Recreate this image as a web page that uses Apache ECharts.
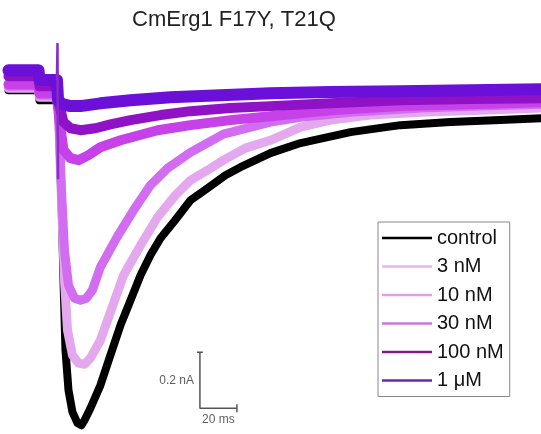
<!DOCTYPE html>
<html>
<head>
<meta charset="utf-8">
<script src="https://cdn.jsdelivr.net/npm/echarts@6/dist/echarts.min.js"></script>
<style>
html,body{margin:0;padding:0;background:#fff;}
#chart{width:541px;height:434px;}
</style>
</head>
<body>
<div id="chart"></div>
<script>
// ---- data (time in ms, current in nA) ----
const seriesNames = ['control', '3 nM', '10 nM', '30 nM', '100 nM', '1 μM'];

const controlT = [-26.5, -10.27, -9.73, -0.54, 0, 0.54, 2.16, 3.24, 4.32, 5.95, 8.11, 10.8, 12.97, 14.6, 17.8, 23.2, 28.6, 34.1, 39.5, 44.9, 50.3, 55.7, 62.7, 71.9, 81.1, 90.8, 98.9, 115.1, 131.4, 158.4, 185.4, 212.4, 239.5, 261.6];
const controlI = [0.018, 0.018, -0.018, -0.018, -0.018, -0.054, -0.375, -0.661, -0.911, -1.054, -1.132, -1.171, -1.179, -1.161, -1.118, -1.036, -0.929, -0.821, -0.732, -0.643, -0.571, -0.511, -0.454, -0.375, -0.332, -0.286, -0.257, -0.207, -0.171, -0.132, -0.107, -0.096, -0.089, -0.082];

const nM3T = [-26.5, -10.27, -9.73, -0.54, 0, 0.54, 2.16, 3.78, 5.41, 8.11, 11.35, 14.6, 17.8, 23.2, 28.6, 35.7, 44.9, 54.1, 63.8, 71.9, 81.1, 89.7, 101.6, 115.1, 131.4, 147.6, 169.2, 196.2, 228.6, 261.6];
const nM3I = [0.025, 0.025, -0.007, -0.007, -0.007, -0.054, -0.375, -0.661, -0.839, -0.929, -0.957, -0.961, -0.939, -0.875, -0.775, -0.643, -0.536, -0.436, -0.357, -0.304, -0.268, -0.232, -0.189, -0.161, -0.114, -0.089, -0.071, -0.061, -0.054, -0.046];

const nM10T = [-26.5, -10.27, -9.73, -0.54, 0, 0.54, 2.16, 3.78, 5.95, 9.19, 12.43, 15.68, 18.9, 23.2, 32.4, 41.1, 50.3, 59.5, 71.9, 89.7, 115.1, 131.4, 158.4, 196.2, 228.6, 261.6];
const nM10I = [0.032, 0.032, 0, 0, 0, -0.054, -0.339, -0.554, -0.679, -0.725, -0.732, -0.725, -0.696, -0.614, -0.504, -0.411, -0.321, -0.261, -0.204, -0.139, -0.096, -0.079, -0.061, -0.046, -0.039, -0.032];

const nM30T = [-26.5, -10.27, -9.73, -0.54, 0, 1.08, 3.24, 7.03, 11.35, 16.76, 23.2, 34.1, 54.1, 71.9, 93.5, 115.1, 147.6, 185.4, 223.2, 261.6];
const nM30I = [0.039, 0.039, 0.007, 0.007, 0.007, -0.089, -0.196, -0.225, -0.232, -0.214, -0.186, -0.161, -0.125, -0.107, -0.089, -0.075, -0.054, -0.039, -0.032, -0.025];

const nM100T = [-26.5, -10.27, -9.73, -0.54, 0, 1.08, 3.24, 7.03, 12.43, 20.5, 28.6, 39.5, 55.7, 71.9, 93.5, 115.1, 147.6, 185.4, 223.2, 261.6];
const nM100I = [0.068, 0.068, 0.032, 0.032, 0.032, -0.036, -0.096, -0.118, -0.125, -0.118, -0.104, -0.089, -0.071, -0.057, -0.046, -0.039, -0.029, -0.018, -0.014, -0.011];

const uM1T = [-26.5, -10.27, -9.73, -0.27, 0.32, 2.7, 7.03, 12.43, 23.2, 39.5, 61.1, 88.1, 115.1, 147.6, 185.4, 223.2, 261.6];
const uM1I = [0.089, 0.089, 0.054, 0.054, -0.018, -0.032, -0.039, -0.039, -0.029, -0.018, -0.007, 0, 0.007, 0.011, 0.014, 0.018, 0.021];

// capacitive transient at the step onset
const spikeT = [-0.3, 0, 0.3];
const spikeI = [0.054, 0.186, -0.3];

// scale bar: origin and lengths
const scaleOriginT = 77;      // ms
const scaleOriginI = -1.118;  // nA
const scaleLenT = 20;         // ms
const scaleLenI = 0.2;        // nA
const scaleLabels = ['0.2 nA', '20 ms'];

const titleText = 'CmErg1 F17Y, T21Q';

// ---- styles ----
const traceColors = ['#000000', '#e4a8ee', '#d26cf0', '#c642e8', '#9012c6', '#6a10d8'];
const legendColors = ['#000000', '#e8b4f0', '#dca0ec', '#c878dc', '#7c1c8c', '#6a2c9c'];
const traceWidths = [8, 9, 9, 10, 10, 12];

const traces = [[controlT, controlI], [nM3T, nM3I], [nM10T, nM10I], [nM30T, nM30I], [nM100T, nM100I], [uM1T, uM1I]];

const series = traces.map((tr, k) => ({
  name: seriesNames[k],
  type: 'line',
  data: tr[0].map((t, i) => [t, tr[1][i]]),
  symbol: 'none',
  smooth: false,
  lineStyle: { color: traceColors[k], width: traceWidths[k], cap: 'round', join: 'round' },
  itemStyle: { color: traceColors[k] },
  z: 2 + k
}));

series.push({
  name: 'spike', type: 'line', symbol: 'none', z: 9,
  lineStyle: { color: '#8a2cc8', width: 2.5 },
  data: spikeT.map((t, i) => [t, spikeI[i]])
});

const sbT0 = scaleOriginT, sbI0 = scaleOriginI;
series.push({
  name: 'scalebar', type: 'line', symbol: 'none', z: 20,
  lineStyle: { color: '#555', width: 1.5 },
  data: [[sbT0, sbI0 + scaleLenI], [sbT0, sbI0], [sbT0 + scaleLenT, sbI0]]
});
series.push({
  name: 'scalecap1', type: 'line', symbol: 'none', z: 20,
  lineStyle: { color: '#555', width: 1.5 },
  data: [[sbT0 - 1.6, sbI0 + scaleLenI], [sbT0 + 1.6, sbI0 + scaleLenI]]
});
series.push({
  name: 'scalecap2', type: 'line', symbol: 'none', z: 20,
  lineStyle: { color: '#555', width: 1.5 },
  data: [[sbT0 + scaleLenT, sbI0 + 0.014], [sbT0 + scaleLenT, sbI0 - 0.014]]
});
series.push({
  name: 'scalelabels', type: 'scatter', symbolSize: 0, z: 21,
  data: [
    { value: [sbT0, sbI0 + scaleLenI / 2], label: { show: true, position: 'left', distance: 6, formatter: scaleLabels[0] } },
    { value: [sbT0 + scaleLenT / 2, sbI0], label: { show: true, position: 'bottom', distance: 5, formatter: scaleLabels[1] } }
  ],
  label: { color: '#333', fontSize: 12, fontFamily: 'Liberation Sans, Arial, sans-serif' }
});

const chart = echarts.init(document.getElementById('chart'), null, { renderer: 'canvas' });
chart.setOption({
  animation: false,
  backgroundColor: '#ffffff',
  title: {
    text: titleText, left: 127, top: 4,
    textStyle: { fontSize: 22, fontWeight: 'normal', color: '#222', fontFamily: 'Liberation Sans, Arial, sans-serif' }
  },
  grid: { left: 2, right: 0, top: 0, bottom: 0 },
  xAxis: { type: 'value', min: -30, max: 261.4, show: false },
  yAxis: { type: 'value', min: -1.21, max: 0.34, show: false },
  legend: {
    orient: 'vertical', left: 378, top: 222,
    padding: [5, 6, 5, 4],
    borderColor: '#888', borderWidth: 1,
    itemWidth: 50, itemHeight: 2.5, itemGap: 6.5,
    icon: 'rect',
    textStyle: { fontSize: 20, lineHeight: 22, color: '#111', fontFamily: 'Liberation Sans, Arial, sans-serif' },
    data: seriesNames.map((n, k) => ({ name: n, itemStyle: { color: legendColors[k] } }))
  },
  series: series
});
</script>
</body>
</html>
